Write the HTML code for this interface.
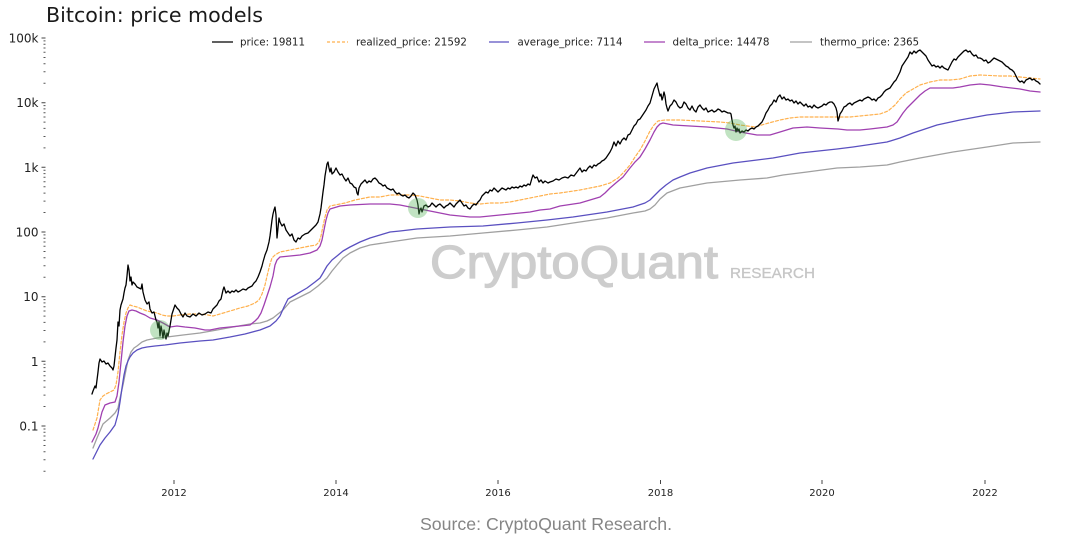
<!DOCTYPE html>
<html><head><meta charset="utf-8"><style>
html,body{margin:0;padding:0;background:#fff;}
svg{display:block;}
text{font-family:"DejaVu Sans","Liberation Sans",sans-serif;}
</style></head><body>
<svg width="1084" height="551" viewBox="0 0 1084 551" xmlns="http://www.w3.org/2000/svg">
<rect width="1084" height="551" fill="#fff"/>
<text x="46" y="22" font-size="20.5" fill="#1a1a1a" textLength="217" lengthAdjust="spacingAndGlyphs">Bitcoin: price models</text>

<!-- watermark -->
<text x="430" y="278" font-size="46" fill="#cdcdcd" stroke="#cdcdcd" stroke-width="1.2" style="font-family:'Liberation Sans',sans-serif" textLength="288" lengthAdjust="spacingAndGlyphs">CryptoQuant</text>
<text x="730" y="278" font-size="15" fill="#c6c6c6" stroke="#c6c6c6" stroke-width="0.3" style="font-family:'Liberation Sans',sans-serif" textLength="85" lengthAdjust="spacingAndGlyphs">RESEARCH</text>

<!-- y ticks -->
<path d="M41.5 426h4M41.5 361.3h4M41.5 296.7h4M41.5 232h4M41.5 167.3h4M41.5 102.7h4M41.5 38h4" stroke="#444" stroke-width="1"/>
<path d="M43.5 471.2h2M43.5 459.8h2M43.5 451.7h2M43.5 445.5h2M43.5 440.4h2M43.5 436h2M43.5 432.3h2M43.5 429h2
M43.5 406.5h2M43.5 395.1h2M43.5 387.1h2M43.5 380.8h2M43.5 375.7h2M43.5 371.4h2M43.5 367.6h2M43.5 364.3h2
M43.5 341.9h2M43.5 330.5h2M43.5 322.4h2M43.5 316.1h2M43.5 311h2M43.5 306.7h2M43.5 302.9h2M43.5 299.6h2
M43.5 277.2h2M43.5 265.8h2M43.5 257.7h2M43.5 251.5h2M43.5 246.3h2M43.5 242h2M43.5 238.3h2M43.5 234.9h2
M43.5 212.5h2M43.5 201.1h2M43.5 193.1h2M43.5 186.8h2M43.5 181.7h2M43.5 177.3h2M43.5 173.6h2M43.5 170.3h2
M43.5 147.9h2M43.5 136.5h2M43.5 128.4h2M43.5 122.1h2M43.5 117h2M43.5 112.7h2M43.5 108.9h2M43.5 105.6h2
M43.5 83.2h2M43.5 71.8h2M43.5 63.7h2M43.5 57.5h2M43.5 52.3h2M43.5 48h2M43.5 44.3h2M43.5 40.9h2" stroke="#555" stroke-width="1"/>
<g font-size="12" fill="#222" text-anchor="end">
<text x="38.5" y="42.5">100k</text>
<text x="38.5" y="107.2">10k</text>
<text x="38.5" y="171.8">1k</text>
<text x="38.5" y="236.5">100</text>
<text x="38.5" y="301.2">10</text>
<text x="38.5" y="365.8">1</text>
<text x="38.5" y="430.5">0.1</text>
</g>

<!-- x ticks -->
<path d="M174 480v4M336 480v4M498 480v4M660.5 480v4M822 480v4M985 480v4" stroke="#444" stroke-width="1"/>
<g font-size="10" fill="#222" text-anchor="middle">
<text x="174" y="496">2012</text>
<text x="336" y="496">2014</text>
<text x="498" y="496">2016</text>
<text x="660.5" y="496">2018</text>
<text x="822" y="496">2020</text>
<text x="985" y="496">2022</text>
</g>

<!-- legend -->
<g stroke-width="1.3" fill="none">
<line x1="212" y1="42" x2="233" y2="42" stroke="#000"/>
<line x1="327" y1="42" x2="348" y2="42" stroke="#ffb14e" stroke-dasharray="3,2"/>
<line x1="489" y1="42" x2="509" y2="42" stroke="#5a50c0"/>
<line x1="644" y1="42" x2="665" y2="42" stroke="#a040b0"/>
<line x1="790" y1="42" x2="812" y2="42" stroke="#a0a0a0"/>
</g>
<g font-size="10.3" fill="#222">
<text x="240" y="45.5" textLength="65" lengthAdjust="spacingAndGlyphs">price: 19811</text>
<text x="356" y="45.5" textLength="111" lengthAdjust="spacingAndGlyphs">realized_price: 21592</text>
<text x="517.5" y="45.5" textLength="105" lengthAdjust="spacingAndGlyphs">average_price: 7114</text>
<text x="672.5" y="45.5" textLength="97" lengthAdjust="spacingAndGlyphs">delta_price: 14478</text>
<text x="820" y="45.5" textLength="99" lengthAdjust="spacingAndGlyphs">thermo_price: 2365</text>
</g>

<!-- series -->
<g fill="none" stroke-linejoin="round" stroke-linecap="round">
<polyline stroke="#a0a0a0" stroke-width="1.3" points="93,448 97,438 103,424 110,418 115,413 118,408 120,398 123,385 126,370 128,360 131,352 134,348 137,346 142,342 147,340 157,338 167,337 183,335 200,333 217,330 233,327 250,324 260,323 267,321 273,318 278,314 283,310 290,302 300,297 310,292 318,286 327,278 332,271 337,265 343,258 350,253 360,248 370,245 390,242 417,238 450,236 483,233 517,230 547,227 573,223 607,218 633,213 645,211 650,209 655,205 660,199 667,193 680,188 707,183 740,180 767,178 783,175 807,172 837,168 860,167 887,165 900,162 920,158 953,152 987,147 1013,143 1040,142"/>
<polyline stroke="#5a50c0" stroke-width="1.3" points="93,459 96,453 100,445 105,438 110,432 115,425 118,414 120,402 122,388 124,375 126,366 128,361 130,357 133,353 137,350 142,348 147,347 155,346 165,345 180,343 200,341 213,340 230,337 245,334 260,330 270,326 276,321 280,316 284,307 288,299 295,295 307,288 315,282 320,278 323,273 327,266 332,260 337,256 343,251 350,247 360,242 370,238 380,235 390,232 400,231 417,229 450,227 483,226 517,223 547,220 573,217 607,212 633,207 645,203 650,200 655,195 660,190 666,185 673,180 680,177 690,173 707,168 733,163 757,160 773,158 800,153 837,149 853,147 887,142 900,138 913,133 925,129 937,125 960,120 987,115 1013,112 1040,111"/>
<polyline stroke="#a040b0" stroke-width="1.3" points="92,442 94,438 96,434 98,428 100,420 102,412 105,405 110,403 115,402 117,396 119,382 121,362 123,342 125,326 127,316 129,311 132,310 136,311 140,313 145,315 150,318 157,320 163,323 170,327 177,326 185,327 195,328 205,330 210,330 220,328 230,327 240,326 250,325 255,321 258,318 261,313 264,305 267,296 270,287 273,276 275,265 277,260 280,257 290,256 300,255 310,253 317,250 320,246 322,240 324,230 326,220 328,213 330,209 340,206 350,205 370,204 390,204 400,205 410,207 420,209 430,211 440,213 450,215 460,216 470,217 480,217 490,216 500,215 510,214 520,213 530,212 540,210 550,209 560,206 580,203 600,197 605,193 610,188 617,182 623,177 630,168 635,162 640,157 645,149 650,140 654,132 657,127 660,124 663,123 673,125 690,126 707,127 727,129 740,132 757,135 770,135 780,132 793,128 807,127 820,128 838,129 847,130 860,130 870,129 887,127 893,125 897,122 903,113 907,108 910,105 915,100 920,95 925,91 930,88 940,88 953,88 960,87 970,85 980,84 990,85 1003,87 1020,89 1030,91 1040,92"/>
<polyline stroke="#ffb14e" stroke-width="1.2" stroke-dasharray="3,2" points="93,430 95,424 97,418 100,400 103,396 106,394 110,392 114,390 116,385 118,372 120,352 122,335 124,322 126,313 128,308 130,305 133,306 137,307 142,309 147,311 152,312 157,313 162,315 167,316 173,316 180,315 190,314 200,314 208,315 213,316 220,314 230,311 240,308 248,306 255,303 259,300 262,294 265,285 268,272 270,264 272,258 275,255 280,252 290,250 300,248 310,246 316,245 319,242 321,236 323,226 325,217 327,210 330,206 335,205 345,203 355,200 370,197 380,197 390,195 400,195 410,195 420,196 430,198 440,200 450,200 460,201 470,203 480,204 490,203 500,203 510,202 520,200 530,198 540,196 550,194 560,193 580,190 600,186 610,183 618,178 624,172 630,165 635,157 640,150 645,141 650,131 654,125 658,121 665,120 680,120 700,121 720,122 730,123 740,125 755,127 765,124 780,120 790,118 800,117 820,117 840,117 850,117 870,115 880,114 888,111 895,105 900,99 906,93 913,89 920,85 930,82 940,80 950,80 960,79 970,76 980,75 1000,76 1010,76 1020,77 1030,78 1040,79"/>
<polyline stroke="#000" stroke-width="1.3" points="92,394 93,391 95,386 96,388 98,372 99,363 100,359 102,362 104,361 106,364 108,363 110,366 112,368 113,370 114,366 116,348 117,340 118,322 119,326 120,310 121,305 122,302 123,299 124,293 125,288 126,285 127,276 128,265 129,270 130,281 131,277 132,285 133,282 135,284 137,287 139,288 141,289 142,284 143,292 145,300 147,304 149,302 150,309 152,313 154,312 156,320 157,322 158,328 159,322 160,336 161,326 162,331 163,338 164,330 165,335 166,339 167,333 168,336 170,326 171,320 172,314 174,308 175,305 177,308 179,310 181,314 183,317 185,313 187,316 190,317 193,314 196,316 199,313 202,315 205,314 208,312 211,313 213,309 215,307 217,305 219,301 221,299 223,290 224,287 226,293 228,291 230,293 232,291 234,292 236,290 238,292 240,291 243,289 246,290 248,288 250,287 252,286 254,283 256,281 258,277 260,272 262,266 263,262 265,255 267,250 269,242 270,236 271,228 272,220 273,214 274,210 275,207 276,215 277,238 278,228 279,218 280,222 282,226 284,224 286,230 288,233 290,236 292,234 294,240 296,242 298,238 300,239 302,236 305,234 308,233 310,231 312,229 314,227 316,225 318,222 320,214 321,208 322,200 323,192 324,185 325,176 326,170 327,164 328,162 329,168 330,172 331,168 332,174 334,172 336,168 338,172 340,175 342,174 344,178 346,181 348,178 350,183 352,184 354,187 356,188 357,193 358,195 359,188 361,184 363,182 365,180 367,183 369,181 371,182 373,179 375,178 377,180 379,183 381,184 383,186 385,185 387,188 389,189 391,190 393,189 395,192 397,194 399,193 401,195 403,196 405,195 407,197 409,198 411,196 413,193 415,195 417,200 418,205 419,214 420,210 421,208 422,212 424,206 426,205 428,207 430,206 432,203 434,205 436,207 438,205 440,204 442,206 444,208 446,206 448,205 450,203 452,205 454,207 456,204 458,202 460,200 462,203 464,206 466,205 468,208 470,209 472,206 474,204 476,205 478,202 480,200 482,196 484,194 486,192 488,193 490,190 492,191 494,188 496,190 498,192 500,190 502,188 504,189 506,190 508,188 510,189 512,187 514,188 516,187 518,188 520,186 522,187 524,185 526,186 528,184 530,185 532,178 533,175 535,178 537,177 539,182 541,180 543,183 545,181 548,183 550,182 553,181 556,179 559,180 562,178 565,177 568,178 571,175 574,176 577,172 580,168 582,172 584,170 586,171 588,168 590,166 592,168 594,165 596,166 598,164 600,163 602,161 604,160 606,158 608,155 610,152 612,148 614,142 616,146 618,141 620,144 622,140 624,138 626,140 628,135 630,134 632,130 634,126 636,124 638,120 640,119 642,116 644,113 646,110 648,106 650,103 652,96 654,89 656,85 657,83 658,88 659,92 660,96 661,94 662,100 663,97 664,92 665,96 666,104 667,108 668,111 670,106 672,104 674,100 676,102 678,106 680,108 682,107 684,102 686,104 688,108 690,110 692,106 694,110 696,112 698,107 700,105 702,108 704,110 706,108 708,112 710,111 712,110 714,112 716,111 718,109 720,110 722,112 724,111 726,112 728,113 730,113 731,114 732,120 733,125 734,128 735,126 736,132 737,128 738,131 739,129 740,133 742,131 744,132 746,130 748,131 750,129 752,128 754,129 756,127 758,126 760,124 762,122 764,118 766,113 768,110 770,106 772,104 774,100 776,102 778,97 780,95 782,99 784,97 786,100 788,99 790,101 792,100 794,103 796,101 798,104 800,102 802,104 804,106 806,104 808,107 810,106 812,108 814,105 816,107 818,108 820,107 822,106 824,104 826,105 828,103 830,102 832,102 834,104 836,108 837,112 838,121 839,118 840,114 842,111 844,107 846,106 848,104 850,103 852,105 854,103 856,102 858,101 860,100 862,101 864,99 866,98 868,97 870,98 872,100 874,99 876,101 878,98 880,97 882,95 884,92 886,90 888,89 890,88 892,85 894,82 896,80 898,76 900,72 902,66 904,63 906,60 908,57 910,52 912,54 914,51 916,53 918,51 920,50 922,52 924,54 926,56 928,60 930,63 932,66 934,65 936,67 938,66 940,68 942,66 944,68 946,69 948,70 950,66 952,62 954,59 956,60 958,57 960,55 962,53 964,51 966,50 968,52 970,51 972,54 974,56 976,55 978,58 980,58 982,59 984,61 986,60 988,63 990,62 992,60 994,58 996,59 998,60 1000,61 1002,62 1004,64 1006,66 1008,67 1010,69 1012,70 1014,72 1016,76 1018,80 1020,82 1022,81 1024,83 1026,80 1028,79 1030,78 1032,80 1034,79 1036,81 1038,82 1040,84"/>
</g>

<!-- highlight circles -->
<g fill="#4caf50" fill-opacity="0.35">
<circle cx="160" cy="330" r="10"/>
<circle cx="418" cy="208" r="10"/>
<circle cx="736" cy="130" r="11"/>
</g>

<text x="420" y="530" font-size="17.5" fill="#858585" style="font-family:'Liberation Sans',sans-serif" textLength="252" lengthAdjust="spacingAndGlyphs">Source: CryptoQuant Research.</text>
</svg>
</body></html>
